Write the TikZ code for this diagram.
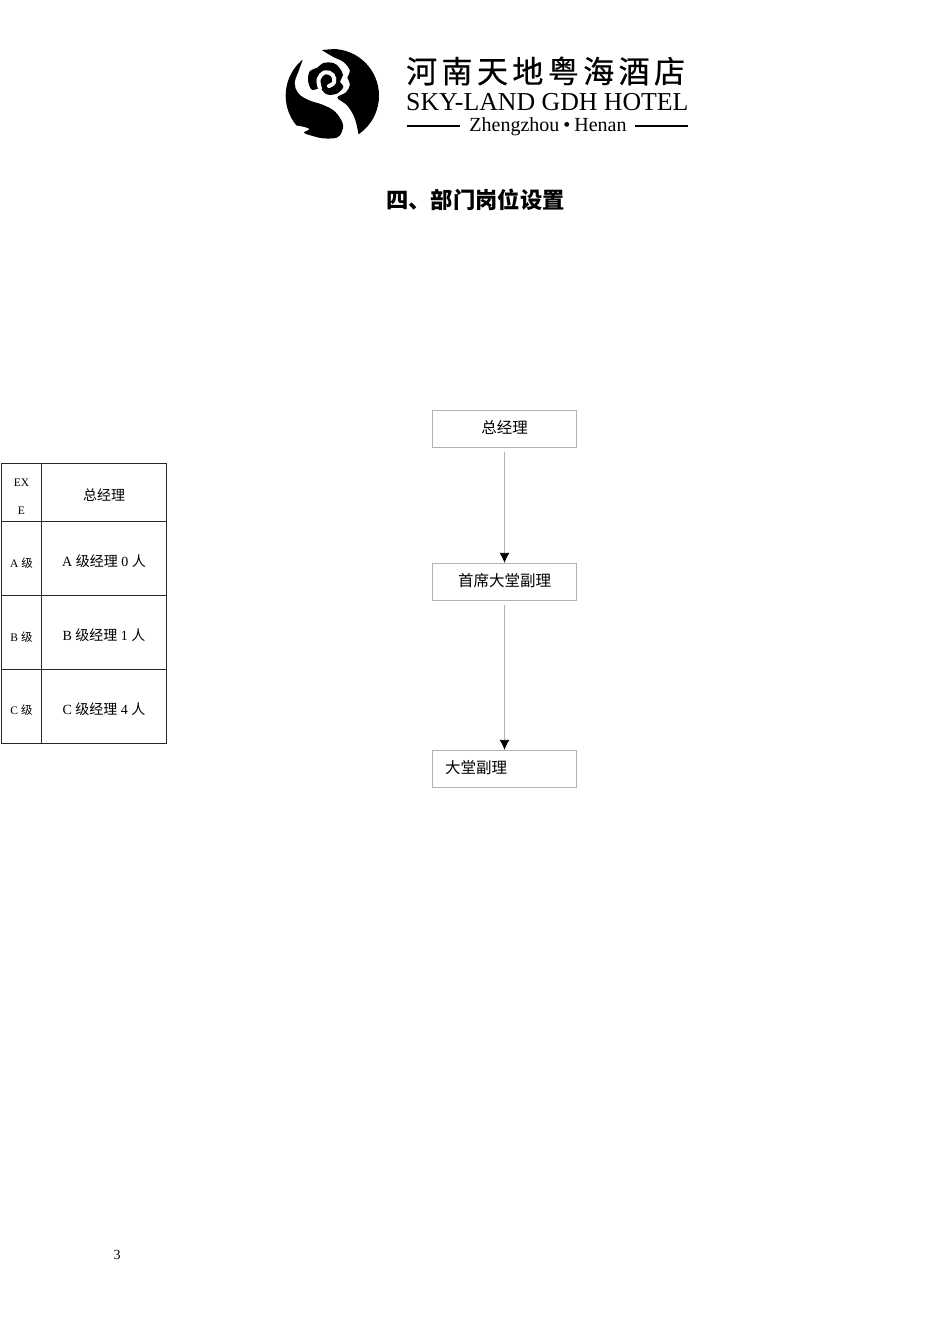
\documentclass[tikz,border=0pt]{standalone}
\usepackage{fontspec}
\setmainfont{Liberation Serif}
\newfontfamily\cjk{Noto Sans CJK SC}
\newfontfamily\cjkname[FakeBold=0.5]{Noto Sans CJK SC}
\usetikzlibrary{arrows.meta}
\tikzset{
	postbox/.style={draw=black!30,line width=0.8pt,minimum width=144.5pt,minimum height=37.5pt,inner sep=0pt},
	posttext/.style={inner sep=0pt,font=\fontsize{15.5}{15.5}\selectfont\cjk},
	cell/.style={inner sep=0pt,font=\fontsize{14}{14}\selectfont},
	small/.style={inner sep=0pt,font=\fontsize{11.5}{11.5}\selectfont},
	link/.style={black!30,line width=0.8pt,-{Latex[black,length=10pt,width=10pt]},shorten <=4pt}
}
\begin{document}
\begin{tikzpicture}[x=1pt,y=-1pt]
	\useasboundingbox[fill=white] (0,0) rectangle (950,1344);
	% logo
	\begin{scope}[shift={(280,45)},scale=1/3]
		\begin{scope}
			\clip (157,152) circle (140);
			\fill[black] plot[smooth,tension=0.6] coordinates {(125,15) (160,36) (192,52) (210,78) (202,97) (210,118) (198,142) (172,158) (202,182) (226,225) (240,295)} -- (320,295) -- (320,0) -- cycle;
			\fill[black] plot[smooth,tension=0.6] coordinates {(68,45) (55,80) (44,115) (55,145) (85,165) (130,180) (165,200) (188,235) (185,262) (170,278) (130,280) (95,272) (72,263) (88,252) (60,243) (20,238)} -- (0,238) -- (0,20) -- cycle;
		\end{scope}
		\fill[black] plot[smooth cycle,tension=0.6] coordinates {(84,105) (90,78) (112,68) (130,54) (160,54) (178,68) (189,90) (180,110) (190,126) (170,146) (140,148) (120,131) (95,134)};
		\draw[white,line width=4pt,line cap=round] plot[smooth,tension=0.7] coordinates {(120,130) (116,102) (135,82) (158,90) (162,112) (147,123)};
	\end{scope}
	\node[inner sep=0pt,anchor=west] (logoname) at (406,71) {\fontsize{31}{31}\selectfont\cjkname 河\kern4.4pt 南\kern4.4pt 天\kern4.4pt 地\kern4.4pt 粤\kern4.4pt 海\kern4.4pt 酒\kern4.4pt 店};
	\node[inner sep=0pt,anchor=west] (logoen) at (406,102) {\fontsize{25.8}{25.8}\selectfont SKY-LAND GDH HOTEL};
	\node[inner sep=0pt] (logocity) at (548,126.5) {\fontsize{20}{20}\selectfont Zhengzhou\kern4pt\textbullet\kern4pt Henan};
	\coordinate (ruleA) at (407,126);
	\coordinate (ruleB) at (460,126);
	\coordinate (ruleC) at (635,126);
	\coordinate (ruleD) at (688,126);
	\draw[line width=1.2pt] (ruleA)--(ruleB);
	\draw[line width=1.2pt] (ruleC)--(ruleD);
	% title
	\node[inner sep=0pt] (title) at (475.5,200) {\fontsize{22.3}{22.3}\selectfont\cjk\bfseries 四、部门岗位设置};
	% flow
	\node[postbox] (gm) at (504.5,429) {};
	\node[postbox] (chief) at (504.5,582) {};
	\node[postbox] (duty) at (504.5,769) {};
	\node[posttext] (gmtext) at (504.5,427.5) {总经理};
	\node[posttext] (chieftext) at (504.5,580.5) {首席大堂副理};
	\node[posttext,anchor=west] (dutytext) at (445,767.5) {大堂副理};
	\draw[link] (gm)--(chief);
	\draw[link] (chief)--(duty);
	% table
	\draw[line width=0.8pt,black!85] (1,463.5) rectangle (166.5,743.5);
	\draw[line width=0.8pt,black!85] (41.5,463.5)--(41.5,743.5);
	\foreach \y in {521.5,595.5,669}
	\draw[line width=0.8pt,black!85] (1,\y)--(166.5,\y);
	\node[small] (exa) at (21.5,483) {EX};
	\node[small] (exb) at (21.5,511) {E};
	\node[small] (la) at (21.5,563) {A {\cjk 级}};
	\node[small] (lb) at (21.5,637) {B {\cjk 级}};
	\node[small] (lc) at (21.5,710.5) {C {\cjk 级}};
	\node[cell] (ce) at (104,495) {\cjk 总经理};
	\node[cell] (ca) at (104,561) {A {\cjk 级经理} 0 {\cjk 人}};
	\node[cell] (cb) at (104,635) {B {\cjk 级经理} 1 {\cjk 人}};
	\node[cell] (cc) at (104,709) {C {\cjk 级经理} 4 {\cjk 人}};
	\node[inner sep=0pt,font=\fontsize{14}{14}\selectfont] (page) at (117,1254.5) {3};
\end{tikzpicture}
\end{document}
